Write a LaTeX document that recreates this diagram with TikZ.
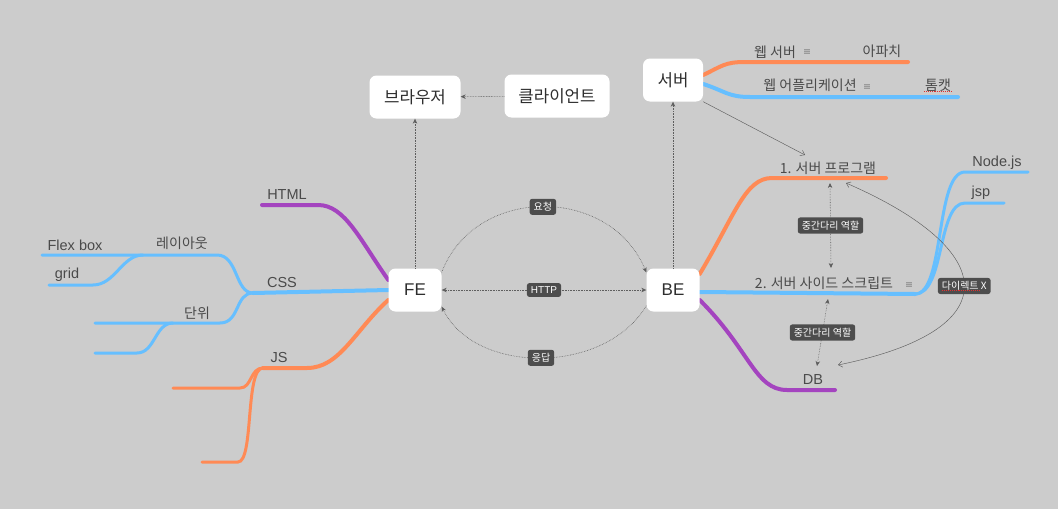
\documentclass[tikz,border=0pt]{standalone}
\usepackage{fontspec}
\setmainfont{Liberation Sans}
\newfontfamily\kr{Noto Sans CJK KR}
\usetikzlibrary{arrows.meta,calc}

\definecolor{BgGrey}{HTML}{CCCCCC}
\definecolor{TopicText}{HTML}{2E2E2E}
\definecolor{LabelText}{HTML}{4A4A4A}
\definecolor{BranchOrange}{HTML}{FF8A55}
\definecolor{BranchBlue}{HTML}{66BFFF}
\definecolor{BranchPurple}{HTML}{A444BF}
\definecolor{TagGrey}{HTML}{4D4D4D}
\definecolor{LinkGrey}{HTML}{5E5E5E}
\definecolor{NoteGrey}{HTML}{9A9A9A}
\definecolor{SpellRed}{HTML}{E03030}

\pgfdeclarelayer{bglayer}
\pgfdeclarelayer{branches}
\pgfsetlayers{bglayer,branches,main}

\tikzset{
  topicbox/.style={fill=white, rounded corners=7pt, text=TopicText, minimum height=43pt, inner xsep=4pt},
  krtopic/.style={topicbox, font=\kr\fontsize{16.8}{16.8}\selectfont},
  latintopic/.style={topicbox, font=\fontsize{17}{17}\selectfont},
  krlabel/.style={text=LabelText, inner sep=1pt, font=\kr\fontsize{14}{14}\selectfont},
  latinlabel/.style={text=LabelText, inner sep=1pt, font=\fontsize{14.5}{14.5}\selectfont},
  tagbox/.style={fill=TagGrey, rounded corners=2.5pt, text=white, inner xsep=4pt, inner ysep=3.5pt, font=\kr\fontsize{10}{10}\selectfont},
  mainbranch/.style={line width=4pt, line cap=round},
  subbranch/.style={line width=3pt, line cap=round},
  dotlink/.style={densely dotted, LinkGrey, line width=0.6pt, -{Stealth[length=5pt,width=4.5pt]}},
  dotboth/.style={dotlink, {Stealth[length=5pt,width=4.5pt]}-{Stealth[length=5pt,width=4.5pt]}},
  thinlink/.style={LinkGrey, line width=0.45pt, -{Straight Barb[length=4pt,width=6pt]}},
  thinboth/.style={thinlink, {Straight Barb[length=4pt,width=6pt]}-{Straight Barb[length=4pt,width=6pt]}},
  spellmark/.style={SpellRed, densely dotted, line width=1.1pt},
  notemark/.pic={
    \fill[NoteGrey] (-3,-2.5) rectangle (3,2.5);
    \foreach \i in {-1,1}
      \draw[NoteGrey!70!white, line width=0.4pt] (-3,\i) -- (3,\i);
  },
}

\begin{document}
\begin{tikzpicture}[x=1pt, y=-1pt]

  \begin{pgfonlayer}{bglayer}
    \fill[BgGrey] (0,0) rectangle (1058,509);
  \end{pgfonlayer}

  % ---------- Topic boxes
  \node[krtopic, minimum width=91pt] (browser) at (415,97) {브라우저};
  \node[krtopic, minimum width=105pt] (client) at (557,96) {클라이언트};
  \node[krtopic, minimum width=60pt] (server) at (673,80) {서버};
  \node[latintopic, minimum width=53pt] (fe) at (415,290) {FE};
  \node[latintopic, minimum width=53pt] (be) at (673,290) {BE};

  % ---------- Branch forks
  \coordinate (cssFork) at (253,293);
  \coordinate (layoutFork) at (143,255);
  \coordinate (unitFork) at (173,323);
  \coordinate (jsFork) at (263,368);
  \coordinate (scriptFork) at (915,294);

  \begin{pgfonlayer}{branches}
    % FE side
    \draw[mainbranch, BranchPurple] ($(fe.west)+(0,-10)$) .. controls (360,240) and (345,205) .. (318,205) -- (262,205);
    \draw[mainbranch, BranchBlue] (fe.west) -- (cssFork);
    \draw[subbranch, BranchBlue] (cssFork) .. controls (235,293) and (238,255) .. (217,255) -- (42,255);
    \draw[subbranch, BranchBlue] (layoutFork) .. controls (122,255) and (115,285) .. (93,285) -- (49,285);
    \draw[subbranch, BranchBlue] (cssFork) .. controls (235,293) and (240,323) .. (220,323) -- (95,323);
    \draw[subbranch, BranchBlue] (unitFork) .. controls (155,323) and (155,353) .. (137,353) -- (95,353);
    \draw[mainbranch, BranchOrange] ($(fe.west)+(0,10)$) .. controls (355,330) and (340,368) .. (307,368) -- (jsFork);
    \draw[subbranch, BranchOrange] (jsFork) .. controls (250,368) and (252,388) .. (240,388) -- (173,388);
    \draw[subbranch, BranchOrange] (jsFork) .. controls (245,368) and (254,462) .. (238,462) -- (202,462);

    % BE side
    \draw[mainbranch, BranchOrange] ($(be.east)+(0,-16)$) .. controls (735,215) and (745,178) .. (772,178) -- (886,178);
    \draw[mainbranch, BranchBlue] ($(be.east)+(0,2)$) -- (scriptFork);
    \draw[subbranch, BranchBlue] (scriptFork) .. controls (945,294) and (935,172) .. (965,172) -- (1028,172);
    \draw[subbranch, BranchBlue] (scriptFork) .. controls (945,294) and (937,203) .. (965,203) -- (1004,203);
    \draw[mainbranch, BranchPurple] ($(be.east)+(0,10)$) .. controls (750,350) and (755,390) .. (787,390) -- (835,390);

    % server side
    \draw[mainbranch, BranchOrange] ($(server.east)+(0,-5)$) .. controls (722,66) and (725,62) .. (745,62) -- (908,62);
    \draw[mainbranch, BranchBlue] ($(server.east)+(0,4)$) .. controls (725,91) and (728,97) .. (750,97) -- (958,97);
  \end{pgfonlayer}

  % ---------- Branch labels
  \node[latinlabel] (html) at (287,195) {HTML};
  \node[latinlabel] (css) at (282,283) {CSS};
  \node[latinlabel] (js) at (279,358) {JS};
  \node[krlabel] (layout) at (182,243) {레이아웃};
  \node[latinlabel] (flexbox) at (75,245) {Flex box};
  \node[latinlabel] (grid) at (67,275) {grid};
  \node[krlabel] (unit) at (197,313) {단위};

  \node[krlabel] (prog1) at (828,168) {1. 서버 프로그램};
  \node[krlabel] (script2) at (824,283) {2. 서버 사이드 스크립트};
  \node[latinlabel] (nodejs) at (997,163) {Node.js};
  \node[latinlabel] (jsp) at (981,193) {jsp};
  \node[latinlabel] (db) at (813,380) {DB};

  \node[krlabel] (webserver) at (775,52) {웹 서버};
  \node[krlabel] (apache) at (882,51) {아파치};
  \node[krlabel] (webapp) at (810,85) {웹 어플리케이션};
  \node[krlabel] (tomcat) at (938,85) {톰캣};
  \draw[spellmark] ($(tomcat.south west)+(0,-1)$) -- ($(tomcat.south east)+(0,-1)$);

  % notes
  \pic at (807,51) {notemark};
  \pic at (867,86) {notemark};
  \pic at (909,284) {notemark};

  % ---------- Links
  \draw[dotlink] (client) -- (browser);
  \draw[dotlink] (fe) -- (browser);
  \draw[dotlink] (be) -- (server);
  \draw[dotboth] (fe) -- node[tagbox, font=\fontsize{10}{10}\selectfont] {HTTP} (be);
  \draw[dotlink] ($(fe.north east)+(0,4)$) .. controls (475,185) and (610,185) .. node[tagbox] {요청} ($(be.north west)+(0,4)$);
  \draw[dotlink] ($(be.south west)+(0,-6)$) .. controls (605,375) and (475,375) .. node[tagbox] {응답} ($(fe.south east)+(0,-5)$);

  \coordinate (prog1In) at (805,155);
  \draw[thinlink] (server.south east) -- (prog1In);

  \coordinate (prog1Mid) at (830,183);
  \coordinate (scriptTop) at (831,268);
  \draw[dotboth] (prog1Mid) -- node[tagbox] {중간다리 역할} (scriptTop);

  \coordinate (scriptBot) at (828,299);
  \coordinate (dbTop) at (817,366);
  \draw[dotboth] (scriptBot) -- node[tagbox] {중간다리 역할} (dbTop);

  \coordinate (prog1Right) at (846,183);
  \coordinate (dbRight) at (838,365);
  \draw[thinboth] (prog1Right) .. controls (1000,250) and (1010,330) .. node[tagbox] (directTag) {다이렉트 X} (dbRight);
  \draw[spellmark] ($(directTag.south west)+(4,-3.5)$) -- ++(38,0);

\end{tikzpicture}
\end{document}
